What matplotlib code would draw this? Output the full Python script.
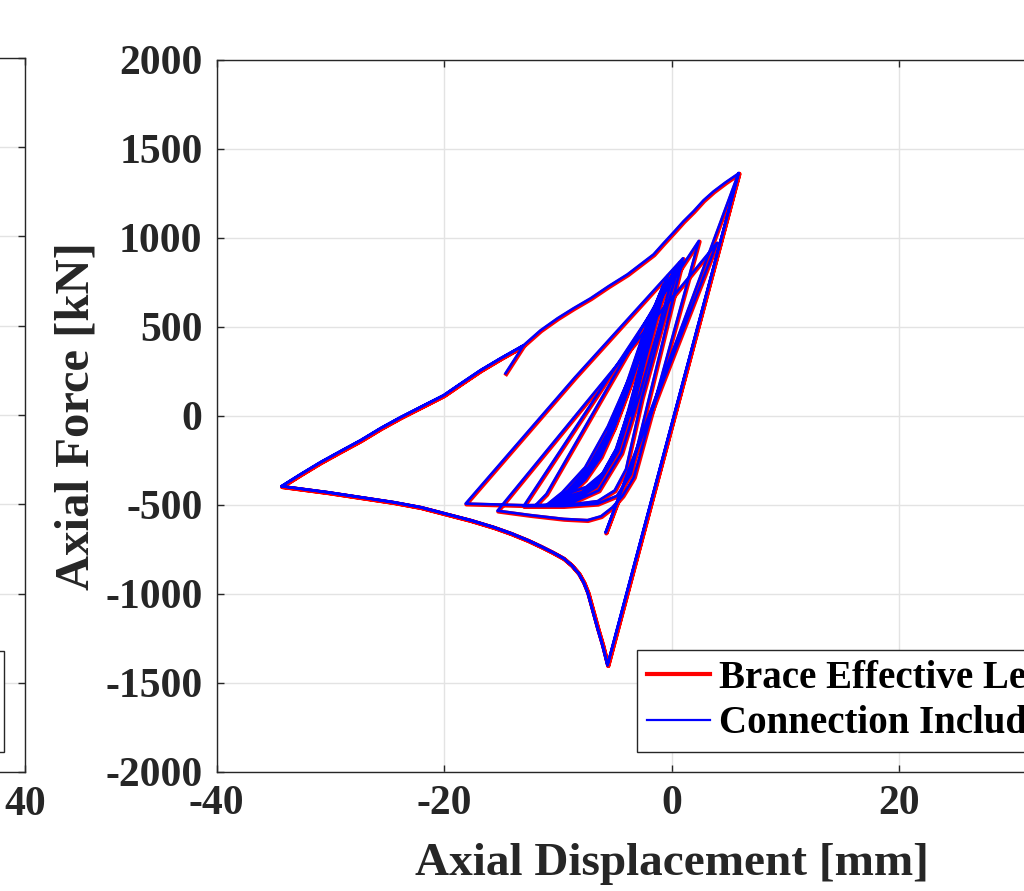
import matplotlib
matplotlib.use('Agg')
import matplotlib.pyplot as plt
from matplotlib.patches import Rectangle
from matplotlib.lines import Line2D
from matplotlib.transforms import offset_copy

# ---------------- data ----------------
# small cycles (dense fan): reload (concave) up to a peak, steep unload, bend to next tip
fan_x = [-3.5, -2.6, -2.0,
         -2.8, -3.8, -4.8, -6.0, -7.5, -8.8,
         -7.6, -6.2, -5.0, -3.6, -2.4, -1.7,
         -2.6, -3.7, -4.9, -6.3, -7.9, -9.3,
         -8.0, -6.5, -5.1, -3.7, -2.4, -1.5,
         -2.5, -3.6, -4.8, -6.3, -8.0, -9.6,
         -8.3, -6.8, -5.3, -3.8, -2.4, -1.2,
         -2.3, -3.5, -4.8, -6.4, -8.2, -9.9,
         -8.6, -7.0, -5.4, -3.8, -2.3, -1.0,
         -2.1, -3.4, -4.8, -6.5, -8.4, -10.2,
         -8.8, -7.1, -5.5, -3.8, -2.2, -0.7,
         -1.9, -3.3, -4.8, -6.6, -8.6, -10.5,
         -9.1, -7.3, -5.6, -3.9, -2.2, -0.3,
         -1.6, -3.1, -4.7, -6.6, -8.8, -11.0,
         -9.6, -7.6, -5.6, -3.6, -1.6, 0.3,
         -1.2, -2.8, -4.4, -6.4, -9.0, -12.0,
         -11.0, 0.7]
fan_y = [0, 250, 450,
         270, 30, -180, -320, -400, -430,
         -360, -230, -60, 180, 400, 520,
         300, 40, -190, -350, -430, -455,
         -380, -250, -70, 170, 420, 580,
         340, 60, -190, -360, -445, -470,
         -395, -265, -80, 170, 440, 640,
         380, 80, -190, -370, -455, -480,
         -405, -275, -85, 180, 470, 690,
         420, 100, -190, -380, -465, -488,
         -410, -280, -90, 190, 500, 740,
         450, 110, -200, -390, -475, -495,
         -420, -290, -95, 190, 510, 790,
         480, 130, -200, -400, -485, -502,
         -430, -290, -60, 230, 550, 830,
         480, 120, -210, -420, -495, -506,
         -440, 860]

# larger cycles before the final excursion
cyc_x = [-1.0, -2.6, -4.0, -5.0, -6.5, -9.0, -13.0, -18.1, -8.5, 1.0,
         -3.6, -4.8, -6.5, -9.5, -13.0, 2.4,
         -3.3, -4.3, -5.2, -6.2, -7.4, -9.5, -12.5, -15.3, 4.0,
         -1.0, -5.8]
cyc_y = [470, 100, -300, -420, -480, -500, -503, -494, 215, 885,
         -330, -450, -495, -508, -508, 983,
         -345, -450, -515, -565, -587, -580, -558, -534, 972,
         150, -657]

# peak tension point
peak_x = [5.9]
peak_y = [1365]

# compression branch: from minimum force to the far-left tip
lower_x = [-5.63, -6.07, -6.51, -6.95, -7.38, -7.74, -8.18, -8.79, -9.50, -10.46, -11.52,
           -12.66, -14.15, -15.65, -17.67, -20.04, -22.07, -24.44, -27.34, -30.24, -34.29]
lower_y = [-1402, -1290, -1194, -1093, -992, -935, -885, -840, -801, -767, -733,
           -699, -660, -626, -587, -548, -514, -486, -458, -430, -396]

# reloading branch: from the far-left tip back to the peak
upper_x = [-32.62, -30.86, -29.10, -27.34, -25.58, -23.82, -21.98, -20.04, -18.37, -16.79,
           -15.03, -13.01, -11.52, -10.02, -8.62, -7.12, -5.54, -3.87, -2.73, -1.58,
           -0.70, 0.18, 1.05, 1.93, 2.81, 3.69, 4.75, 5.89]
upper_y = [-329, -261, -199, -138, -70, -8, 52, 115, 188, 256,
           323, 396, 480, 548, 604, 660, 728, 795, 851, 907,
           970, 1031, 1093, 1149, 1211, 1261, 1312, 1362]

# final short unloading tail
tail_x = [-13.63, -14.59]
tail_y = [334, 239]

x_ticks = [-40, -20, 0, 20, 40]
y_ticks = [-2000, -1500, -1000, -500, 0, 500, 1000, 1500, 2000]
series_labels = ['Brace Effective Length', 'Connection Included']
series_colors = ['#ff0000', '#0000ff']

disp = (fan_x + cyc_x + peak_x + lower_x + upper_x + lower_x + upper_x[:12] + tail_x)
force = (fan_y + cyc_y + peak_y + lower_y + upper_y + lower_y + upper_y[:12] + tail_y)

# ---------------- figure ----------------
plt.rcParams['font.family'] = ['Liberation Serif', 'DejaVu Serif']
plt.rcParams['font.weight'] = 'bold'
plt.rcParams['axes.labelweight'] = 'bold'
plt.rcParams['axes.unicode_minus'] = False

W, H = 1024, 891
fig = plt.figure(figsize=(W / 100, H / 100), dpi=100)
fig.patch.set_facecolor('white')

ink = '#262626'
gridc = '#e3e3e3'


def style_axes(a):
    a.set_xlim(-40, 40)
    a.set_ylim(-2000, 2000)
    a.set_xticks(x_ticks)
    a.set_yticks(y_ticks)
    a.grid(True, color=gridc, lw=1.0)
    a.set_axisbelow(True)
    for s in a.spines.values():
        s.set_color(ink)
        s.set_linewidth(1.0)
    a.tick_params(direction='in', length=5, width=1.0, color=ink, labelsize=30,
                  labelcolor=ink, pad=10, top=True, right=True)


# partially visible neighbouring axes on the left
axL = fig.add_axes([(25 - 910) / W, (H - 772.3) / H, 910 / W, 714.6 / H])
style_axes(axL)
axL.set_yticklabels([])
axL.set_xticklabels(['', '', '', '', str(x_ticks[-1])])

# main axes (its right part lies beyond the figure edge)
ax = fig.add_axes([216.5 / W, (H - 771.5) / H, 910 / W, 711.5 / H])
style_axes(ax)
ax.set_xticklabels([str(v) for v in x_ticks[:-1]] + [''])

red_tr = offset_copy(ax.transData, fig=fig, x=0.8, y=-0.8, units='dots')
ax.plot(disp, force, color=series_colors[0], lw=3.0, solid_joinstyle='round',
        transform=red_tr, zorder=3)
ax.plot(disp, force, color=series_colors[1], lw=1.9, solid_joinstyle='round', zorder=4)

ax.set_xlabel('Axial Displacement [mm]', fontsize=34, color=ink, labelpad=14)
ax.set_ylabel('Axial Force [kN]', fontsize=35, color=ink, labelpad=5)

handles = [Line2D([], [], color=series_colors[0], lw=3.0),
           Line2D([], [], color=series_colors[1], lw=1.6)]
leg = ax.legend(handles, series_labels, loc='upper left',
                bbox_to_anchor=(637 / W, 1 - 650 / H), bbox_transform=fig.transFigure,
                fontsize=28, frameon=True, fancybox=False, framealpha=1,
                edgecolor=ink, borderpad=0.25, handlelength=1.62, handletextpad=0.23,
                labelspacing=0.22, borderaxespad=0)
leg.get_frame().set_linewidth(1.0)
for t in leg.get_texts():
    t.set_color('black')

# fragment of the neighbouring legend box
fig.add_artist(Rectangle((-0.02, (H - 752) / H), 0.02 + 3.5 / W, 101 / H,
                         transform=fig.transFigure, facecolor='white',
                         edgecolor=ink, lw=1.0, zorder=5))

fig.savefig('out.png', dpi=100, facecolor='white')
